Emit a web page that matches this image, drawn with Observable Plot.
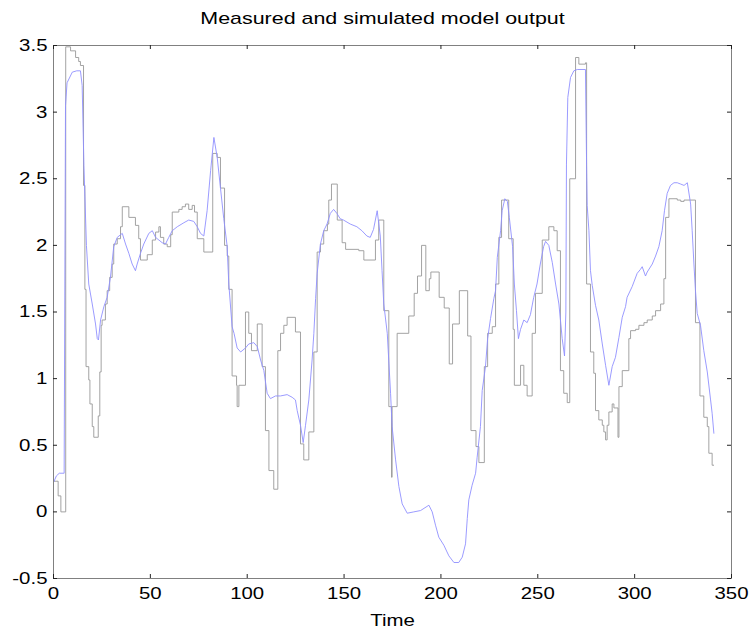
<!DOCTYPE html>
<html>
<head>
<meta charset="utf-8">
<script src="https://cdn.jsdelivr.net/npm/d3@7"></script>
<script src="https://cdn.jsdelivr.net/npm/@observablehq/plot@0.6"></script>
<style>
  html, body { margin: 0; padding: 0; background: #fff; }
  #chart svg { display: block; }
</style>
</head>
<body>
<div id="chart"></div>
<script>
const titleText = "Measured and simulated model output";
const xLabel = "Time";
const xTicks = [0, 50, 100, 150, 200, 250, 300, 350];
const yTicks = [-0.5, 0, 0.5, 1, 1.5, 2, 2.5, 3, 3.5];

// Measured output (sample-and-hold steps): change times and held values
const measuredTime = [0, 2.4, 3.8, 6.3, 8.8, 11.4, 13.0, 13.9, 15.5, 16.2, 16.8, 18.2, 18.8, 20.0, 20.8, 23.1, 23.9, 24.6, 25.1, 26.8, 27.7, 29.0, 30.3, 31.1, 32.9, 34.6, 35.5, 38.9, 42.3, 44.0, 44.9, 48.4, 51.0, 52.7, 54.4, 55.2, 56.9, 58.7, 60.5, 61.3, 64.7, 66.4, 68.1, 69.8, 71.6, 72.8, 74.2, 77.6, 82.2, 84.5, 86.2, 88.3, 89.7, 90.5, 92.2, 94.5, 94.8, 95.7, 99.1, 100.8, 102.2, 105.2, 107.7, 109.4, 111.2, 113.7, 115.8, 117.2, 118.9, 120.6, 124.9, 127.5, 129.2, 131.8, 134.4, 136.1, 137.8, 139.5, 141.4, 142.1, 143.5, 146.5, 149.0, 150.8, 157.6, 160.2, 166.2, 167.9, 170.5, 173.1, 174.5, 174.8, 177.4, 183.4, 186.2, 187.9, 190.0, 192.2, 194.0, 194.8, 199.1, 201.7, 204.3, 206.0, 209.5, 213.8, 215.5, 218.1, 219.6, 222.4, 224.1, 226.5, 228.2, 229.9, 231.3, 235.0, 237.3, 237.9, 241.1, 242.8, 244.5, 247.1, 248.8, 252.3, 255.7, 258.3, 260.0, 261.7, 263.4, 265.2, 266.5, 269.5, 271.2, 274.6, 275.2, 277.2, 278.9, 279.8, 281.5, 283.3, 284.1, 285.0, 285.8, 286.7, 288.4, 289.3, 291.4, 291.9, 293.6, 297.0, 297.9, 300.5, 302.2, 304.8, 306.5, 309.1, 310.8, 313.4, 315.1, 316.0, 317.7, 322.0, 323.8, 325.5, 331.4, 333.7, 335.7, 337.5, 338.3, 340.0, 340.9];
const measuredValue = [0.23, 0.12, 0.0, 3.49, 3.46, 3.41, 3.38, 3.35, 2.45, 1.67, 1.09, 0.99, 0.81, 0.64, 0.56, 0.72, 1.05, 1.40, 1.44, 1.56, 1.66, 1.76, 1.86, 2.01, 2.05, 2.14, 2.29, 2.21, 2.15, 2.05, 1.89, 1.93, 2.04, 2.10, 2.14, 2.06, 2.01, 1.99, 2.08, 2.25, 2.27, 2.29, 2.31, 2.27, 2.30, 2.25, 2.05, 1.95, 2.69, 2.66, 2.43, 2.00, 1.92, 1.67, 1.02, 0.95, 0.79, 0.95, 1.50, 1.34, 1.21, 1.41, 1.09, 0.61, 0.31, 0.17, 1.21, 1.34, 1.40, 1.46, 1.35, 0.51, 0.39, 0.60, 1.20, 1.95, 2.01, 2.11, 2.16, 2.34, 2.46, 2.19, 2.02, 1.97, 1.96, 1.89, 2.04, 2.19, 1.51, 0.79, 0.26, 0.79, 1.34, 1.47, 1.64, 1.77, 2.00, 1.66, 1.75, 1.80, 1.61, 1.53, 1.11, 1.41, 1.66, 1.32, 0.61, 0.49, 0.37, 1.09, 1.34, 1.39, 1.71, 2.06, 2.34, 2.05, 1.37, 0.95, 1.10, 0.95, 0.87, 1.34, 1.64, 2.04, 2.14, 2.11, 1.96, 1.06, 0.89, 0.82, 2.50, 3.41, 3.36, 3.37, 1.71, 1.20, 1.04, 0.76, 0.69, 0.65, 0.60, 0.54, 0.65, 0.75, 0.81, 0.78, 0.56, 0.94, 1.06, 1.30, 1.36, 1.37, 1.40, 1.42, 1.44, 1.47, 1.51, 1.56, 1.75, 2.21, 2.35, 2.34, 2.33, 2.34, 1.42, 0.87, 0.71, 0.64, 0.44, 0.35, 0.35];

// Simulated model output (smooth)
const simulatedTime = [0, 1.5, 3.0, 5.5, 5.8, 6.2, 7.0, 9.7, 12.0, 13.9, 14.8, 15.7, 17.0, 18.2, 20.0, 21.7, 22.6, 23.2, 24.3, 26.0, 27.7, 29.4, 31.1, 32.9, 35.5, 37.2, 38.9, 40.6, 42.3, 43.2, 44.9, 46.6, 49.2, 51.0, 52.7, 54.4, 56.1, 57.8, 59.5, 61.3, 63.9, 67.3, 69.8, 72.4, 74.2, 75.9, 77.6, 79.3, 81.1, 82.8, 84.5, 86.2, 87.9, 89.6, 90.5, 92.2, 93.2, 94.8, 96.6, 99.1, 100.8, 103.4, 105.2, 106.9, 108.6, 110.3, 112.0, 114.6, 117.2, 120.6, 123.2, 124.9, 125.8, 127.5, 128.9, 130.1, 131.8, 133.5, 134.4, 135.3, 136.1, 137.8, 139.5, 141.2, 142.9, 144.6, 146.3, 148.0, 149.7, 153.2, 156.6, 159.2, 161.8, 163.5, 165.2, 167.1, 168.7, 169.6, 170.5, 172.3, 174.0, 174.8, 176.6, 178.3, 180.0, 182.6, 186.0, 189.5, 193.8, 195.5, 197.2, 198.9, 201.5, 204.1, 206.7, 209.2, 211.0, 212.7, 213.6, 214.4, 216.1, 217.9, 218.7, 220.4, 221.3, 223.0, 224.1, 225.6, 227.3, 228.2, 229.1, 230.8, 231.6, 233.0, 234.3, 235.3, 237.0, 237.9, 239.0, 240.0, 241.1, 242.8, 244.5, 246.2, 247.9, 249.6, 251.3, 253.0, 254.0, 255.7, 257.5, 259.2, 260.9, 261.7, 262.6, 263.8, 264.5, 264.8, 265.5, 266.9, 268.6, 270.4, 274.6, 275.2, 275.5, 276.4, 277.2, 278.1, 279.8, 281.5, 283.3, 285.0, 286.7, 288.4, 290.1, 291.9, 293.6, 295.3, 296.1, 298.7, 301.3, 303.0, 303.9, 305.6, 306.5, 309.1, 310.8, 312.5, 314.2, 315.4, 316.8, 318.5, 320.3, 322.0, 323.8, 325.5, 327.2, 328.9, 329.7, 330.6, 331.4, 332.3, 334.0, 335.7, 337.5, 339.2, 340.0, 340.9];
const simulatedValue = [0.22, 0.27, 0.29, 0.29, 1.50, 3.05, 3.22, 3.30, 3.31, 3.31, 3.20, 2.60, 2.00, 1.71, 1.56, 1.41, 1.30, 1.29, 1.44, 1.54, 1.61, 1.76, 1.99, 2.06, 2.09, 2.01, 1.94, 1.86, 1.81, 1.86, 1.94, 2.01, 2.09, 2.11, 2.06, 2.04, 2.02, 2.01, 2.06, 2.11, 2.14, 2.17, 2.19, 2.18, 2.14, 2.09, 2.07, 2.26, 2.56, 2.81, 2.66, 2.43, 2.20, 2.00, 1.71, 1.39, 1.34, 1.23, 1.20, 1.23, 1.26, 1.27, 1.24, 1.14, 1.06, 0.89, 0.85, 0.87, 0.87, 0.88, 0.86, 0.84, 0.76, 0.65, 0.52, 0.65, 0.84, 1.14, 1.34, 1.60, 1.79, 2.01, 2.11, 2.16, 2.24, 2.27, 2.24, 2.20, 2.19, 2.16, 2.14, 2.11, 2.07, 2.06, 2.12, 2.26, 2.07, 1.81, 1.56, 1.34, 0.89, 0.64, 0.39, 0.19, 0.06, -0.01, 0.00, 0.01, 0.05, 0.00, -0.10, -0.19, -0.25, -0.33, -0.38, -0.38, -0.34, -0.24, -0.05, 0.09, 0.20, 0.29, 0.41, 0.64, 0.91, 1.09, 1.30, 1.45, 1.60, 1.66, 1.91, 2.11, 2.26, 2.35, 2.33, 2.21, 1.99, 1.71, 1.51, 1.30, 1.37, 1.44, 1.42, 1.48, 1.61, 1.71, 1.86, 1.99, 2.03, 2.00, 1.87, 1.71, 1.56, 1.44, 1.30, 1.17, 1.50, 2.61, 3.11, 3.26, 3.31, 3.32, 3.32, 2.60, 2.30, 2.11, 1.81, 1.70, 1.55, 1.44, 1.26, 1.10, 0.95, 1.09, 1.16, 1.31, 1.46, 1.54, 1.61, 1.69, 1.79, 1.82, 1.84, 1.77, 1.80, 1.86, 1.92, 1.99, 2.11, 2.26, 2.39, 2.45, 2.47, 2.47, 2.46, 2.45, 2.47, 2.31, 2.11, 1.86, 1.66, 1.49, 1.40, 1.21, 1.05, 0.84, 0.74, 0.59];

const measured = measuredTime.map((t, i) => ({t, v: measuredValue[i]}));
const simulated = simulatedTime.map((t, i) => ({t, v: simulatedValue[i]}));

const W = 750, H = 631;
const mL = 53, mR = 19, mT = 45, mB = 53;
const frameH = H - mT - mB, frameW = W - mL - mR;
const tickLen = 4;

const chart = Plot.plot({
  width: W,
  height: H,
  marginLeft: mL,
  marginRight: mR,
  marginTop: mT,
  marginBottom: mB,
  style: {fontFamily: "'Liberation Sans', Arial, Helvetica, sans-serif", fontSize: "17px", color: "#000", background: "#fff"},
  x: {domain: [0, 350]},
  y: {domain: [-0.5, 3.5]},
  marks: [
    Plot.line(measured, {x: "t", y: "v", curve: "step-after", stroke: "#999999", strokeWidth: 0.9}),
    Plot.line(simulated, {x: "t", y: "v", stroke: "#9090ff", strokeWidth: 0.9}),
    Plot.frame({stroke: "#808080", strokeWidth: 1}),
    Plot.tickX(xTicks, {x: d => d, insetTop: frameH - tickLen, stroke: "#222"}),
    Plot.tickX(xTicks, {x: d => d, insetBottom: frameH - tickLen, stroke: "#222"}),
    Plot.tickY(yTicks, {y: d => d, insetRight: frameW - tickLen, stroke: "#222"}),
    Plot.tickY(yTicks, {y: d => d, insetLeft: frameW - tickLen, stroke: "#222"}),
    Plot.axisX({ticks: xTicks, tickSize: 0, tickPadding: 8, label: null, tickFormat: d => String(d), fontSize: 17}),
    Plot.axisY({ticks: yTicks, tickSize: 0, tickPadding: 6, label: null, tickFormat: d => String(d), fontSize: 17}),
    Plot.text([xLabel], {frameAnchor: "bottom", lineAnchor: "middle", dy: 42, fontSize: 17, fill: "#000"}),
    Plot.text([titleText], {frameAnchor: "top", lineAnchor: "middle", dy: -27, dx: -10, fontSize: 17, fill: "#000"})
  ]
});
document.getElementById("chart").appendChild(chart);

// The reference's lettering is horizontally stretched: widen every text run
chart.querySelectorAll("text").forEach(el => {
  const natural = el.getComputedTextLength();
  if (!natural) return;
  const factor = el.textContent === titleText ? 1.26 : 1.2;
  el.setAttribute("textLength", (natural * factor).toFixed(1));
  el.setAttribute("lengthAdjust", "spacingAndGlyphs");
});
</script>
</body>
</html>
